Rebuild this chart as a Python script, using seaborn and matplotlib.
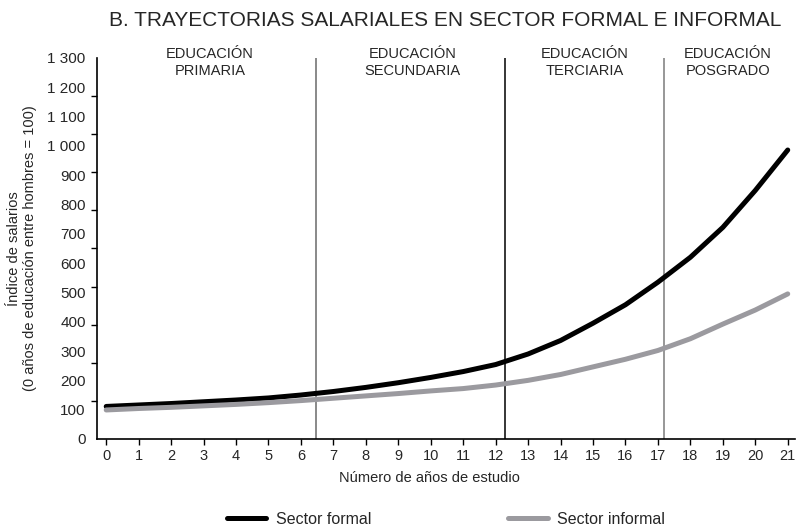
import matplotlib
matplotlib.use("Agg")
import matplotlib.pyplot as plt
import matplotlib.transforms as mtransforms
import seaborn as sns
import pandas as pd

# Data
years = list(range(22))
formal = [111, 116, 121, 127, 133, 140, 150, 162, 176, 192, 210, 230,
          254, 290, 336, 395, 458, 535, 620, 722, 848, 986]
informal = [99, 104, 108, 113, 118, 124, 131, 139, 147, 155, 164, 172,
            184, 200, 220, 246, 272, 302, 342, 392, 440, 495]

sector_names = ["Sector formal", "Sector informal"]
sector_colors = ["#000000", "#9b9a9f"]

stage_bounds = [6.45, 12.3, 17.2]
stage_line_colors = ["#6a6a6a", "#000000", "#7a7a7a"]
stage_labels = ["EDUCACIÓN\nPRIMARIA", "EDUCACIÓN\nSECUNDARIA",
                "EDUCACIÓN\nTERCIARIA", "EDUCACIÓN\nPOSGRADO"]
stage_label_x = [3.2, 9.45, 14.75, 19.15]

ytick_values = list(range(0, 1400, 100))
ytick_labels = ["0", "100", "200", "300", "400", "500", "600", "700",
                "800", "900", "1 000", "1 100", "1 200", "1 300"]
ytick_marks = list(range(0, 1301, 130))

df = pd.DataFrame({
    "Años": years * 2,
    "Índice": formal + informal,
    "Sector": [sector_names[0]] * len(years) + [sector_names[1]] * len(years),
})

sns.set_theme(style="white")
plt.rcParams["font.family"] = ["Liberation Sans", "DejaVu Sans"]

fig = plt.figure(figsize=(8, 5.28), dpi=100)
ax = fig.add_axes([0.121, 0.1686, 0.873, 0.7216])

sns.lineplot(data=df, x="Años", y="Índice", hue="Sector",
             palette=dict(zip(sector_names, sector_colors)),
             linewidth=3.6, ax=ax)

for xb, col in zip(stage_bounds, stage_line_colors):
    ax.axvline(xb, color=col, linewidth=1.1, zorder=1)

trans = mtransforms.blended_transform_factory(ax.transData, ax.transAxes)
for xl, txt in zip(stage_label_x, stage_labels):
    ax.text(xl, 0.988, txt, transform=trans, ha="center", va="center",
            fontsize=10.5, linespacing=1.35, clip_on=False)

ax.set_xlim(-0.29, 21.23)
ax.set_ylim(0, 1300)
ax.set_xticks(years)
ax.set_yticks(ytick_values)
ax.set_yticklabels(ytick_labels)
ax.set_yticks(ytick_marks, minor=True)
ax.tick_params(axis="y", which="major", length=0, pad=8, labelsize=11)
ax.tick_params(axis="y", which="minor", length=4, width=1, color="black",
               direction="out", left=True)
ax.tick_params(axis="x", length=4, width=1, color="black", direction="out",
               bottom=True, pad=3, labelsize=10.5)

for side in ["top", "right"]:
    ax.spines[side].set_visible(False)
for side in ["left", "bottom"]:
    ax.spines[side].set_color("black")
    ax.spines[side].set_linewidth(1.2)

ax.set_xlabel("Número de años de estudio", fontsize=10.5)
ax.xaxis.set_label_coords(0.477, -0.085)
ax.set_ylabel("Índice de salarios\n(0 años de educación entre hombres = 100)",
              fontsize=10.5, linespacing=1.2)
ax.yaxis.set_label_coords(-0.085, 0.5)

fig.suptitle("B. TRAYECTORIAS SALARIALES EN SECTOR FORMAL E INFORMAL",
             x=0.556, y=0.962, fontsize=15, va="center")

sns.move_legend(ax, "lower center", bbox_to_anchor=(0.5, -0.268), ncol=2,
                frameon=False, title=None, fontsize=11.5, handlelength=2.45,
                handletextpad=0.6, columnspacing=8.6)

fig.savefig("out.png", dpi=100)
